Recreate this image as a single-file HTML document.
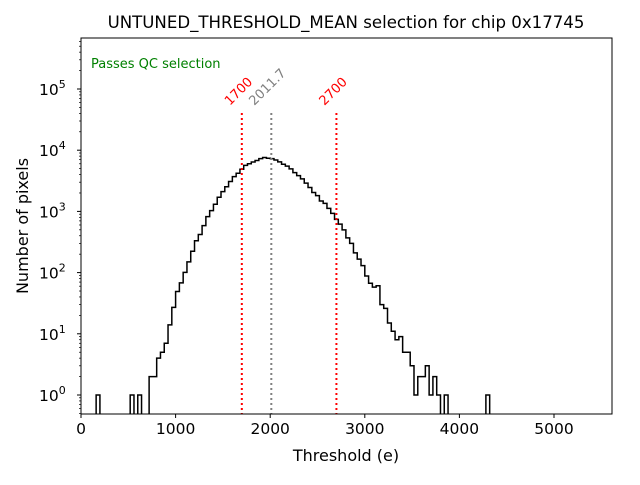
<!DOCTYPE html>
<html><head><meta charset="utf-8"><style>
body{margin:0;background:#fff}
svg text{font-family:"DejaVu Sans","Liberation Sans",sans-serif}
</style></head><body>
<svg id="chart" width="640" height="480" xmlns="http://www.w3.org/2000/svg"></svg>
<script>
const binStarts=[160,520,600,720,760,800,840,880,920,960,1000,1040,1080,1120,1160,1200,1240,1280,1320,1360,1400,1440,1480,1520,1560,1600,1640,1680,1720,1760,1800,1840,1880,1920,1960,2000,2040,2080,2120,2160,2200,2240,2280,2320,2360,2400,2440,2480,2520,2560,2600,2640,2680,2720,2760,2800,2840,2880,2920,2960,3000,3040,3080,3120,3160,3200,3240,3280,3320,3360,3400,3440,3480,3520,3560,3600,3640,3680,3720,3760,3840,4280];
const counts=[1,1,1,2,2,4,5,7,14,27,49,68,101,150,223,332,420,585,820,1030,1310,1700,2100,2530,3080,3700,4200,4880,5650,6000,6400,6800,7300,7600,7400,7300,6900,6450,5900,5500,4950,4300,3850,3400,2900,2460,2040,1810,1480,1350,1120,930,740,620,500,370,300,210,166,130,88,67,58,61,30,26,15,11,8,9,5,5,3,1,2,2,3,1,2,1,1,1];
const binWidth=40;
const cutLines=[1700,2700];
const meanValue=2011.7;
const xTicks=[0,1000,2000,3000,4000,5000];
const yTickExps=[0,1,2,3,4,5];

const svg=document.getElementById('chart');
const NS='http://www.w3.org/2000/svg';
const L=81,R=612,T=38,B=414;
const xMin=0,xMax=(R-L)/0.0946;
const X=v=>L+(v-xMin)/(xMax-xMin)*(R-L);
const Y=v=>395-61.2*Math.log10(v);
function mk(tag,attrs,parent){const e=document.createElementNS(NS,tag);for(const k in attrs)e.setAttribute(k,attrs[k]);(parent||svg).appendChild(e);return e;}

let d='';
let prevEnd=null;
for(let i=0;i<binStarts.length;i++){
  const x0=X(binStarts[i]),x1=X(binStarts[i]+binWidth),y=Y(counts[i]);
  if(prevEnd===null||Math.abs(prevEnd-binStarts[i])>1e-6){d+=`M${x0},${B}L${x0},${y}`;}
  else d+=`L${x0},${y}`;
  d+=`L${x1},${y}`;
  const next=binStarts[i+1];
  if(next===undefined||Math.abs(next-(binStarts[i]+binWidth))>1e-6)d+=`L${x1},${B}`;
  prevEnd=binStarts[i]+binWidth;
}
const hist=mk('path',{d:d,fill:'none',stroke:'#000','stroke-width':1.5});



cutLines.forEach((c,i)=>{
  const ln=mk('line',{x1:X(c),x2:X(c),y1:113,y2:B,stroke:'#f00','stroke-width':2,'stroke-dasharray':'2,3'});
  
  
  const tx=X(c)-12,ty=106;
  const t=mk('text',{x:tx,y:ty,fill:'#f00','font-size':13,transform:`rotate(-45 ${tx} ${ty})`});
  t.textContent=String(c);
  
  
});
const ml=mk('line',{x1:X(meanValue),x2:X(meanValue),y1:113,y2:B,stroke:'#808080','stroke-width':2,'stroke-dasharray':'2,3'});


const mx=X(meanValue)-17,my=106;
const mt=mk('text',{x:mx,y:my,fill:'#808080','font-size':13,transform:`rotate(-45 ${mx} ${my})`});
mt.textContent=meanValue.toFixed(1);



const fr=mk('rect',{x:L,y:T,width:R-L,height:B-T,fill:'none',stroke:'#000','stroke-width':1});



xTicks.forEach(v=>{
  const x=X(v);
  const tk=mk('line',{x1:x,x2:x,y1:B,y2:B+4,stroke:'#000'});
  
  
  const t=mk('text',{x:x,y:B+20,'font-size':15.5,'text-anchor':'middle'});
  t.textContent=String(v);
  
  
});
for(let e=-1;e<=6;e++){
  for(let m=1;m<10;m++){
    const v=m*Math.pow(10,e),y=Y(v);
    if(y<T||y>B)continue;
    const mj=m===1;
    const tk=mk('line',{x1:L-(mj?4:2),x2:L,y1:y,y2:y,stroke:'#000','stroke-width':mj?1:0.7});
    
    
  }
}
yTickExps.forEach(e=>{
  const y=Y(Math.pow(10,e));
  const t=mk('text',{x:L-42,y:y+6,'font-size':15.5,'text-anchor':'start'});
  t.textContent='10';
  const s=mk('tspan',{dx:0,dy:-7,'font-size':11},t);
  s.textContent=String(e);
  
  
});

const title=mk('text',{x:346,y:28,'font-size':16.6,'text-anchor':'middle'});
title.textContent='UNTUNED_THRESHOLD_MEAN selection for chip 0x17745';


const xt=mk('text',{x:346,y:461,'font-size':16,'text-anchor':'middle'});
xt.textContent='Threshold (e)';


const yt=mk('text',{x:28,y:226,'font-size':16,'text-anchor':'middle',transform:'rotate(-90 28 226)'});
yt.textContent='Number of pixels';


const qc=mk('text',{x:91,y:68,'font-size':13,fill:'#008000'});
qc.textContent='Passes QC selection';


</script>
</body></html>
